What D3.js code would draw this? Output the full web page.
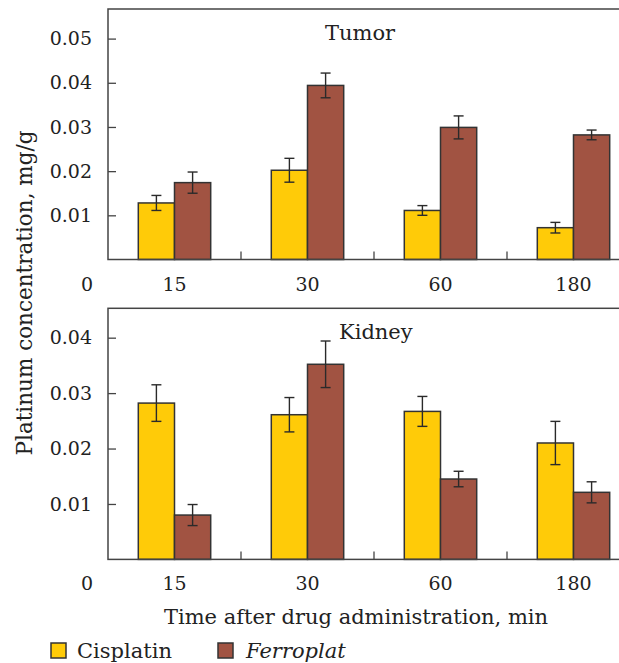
<!DOCTYPE html>
<html>
<head>
<meta charset="utf-8">
<script src="https://cdn.jsdelivr.net/npm/d3@7"></script>
<style>
  body { margin: 0; background: #fff; }
  svg text { font-family: "DejaVu Serif", serif; fill: #222; }
</style>
</head>
<body>
<svg id="chart" width="619" height="663"></svg>
<script>
var categories = ["15", "30", "60", "180"];
var series = ["Cisplatin", "Ferroplat"];
var colors = ["#FFCB08", "#A15342"];

// values (mg/g)
var tumorCisplatin = [0.0128, 0.0202, 0.0111, 0.0072];
var tumorCisplatinErr = [0.0017, 0.0027, 0.0011, 0.0012];
var tumorFerroplat = [0.0174, 0.0394, 0.0299, 0.0282];
var tumorFerroplatErr = [0.0024, 0.0028, 0.0026, 0.0011];

var kidneyCisplatin = [0.0282, 0.0261, 0.0267, 0.0210];
var kidneyCisplatinErr = [0.0033, 0.0031, 0.0027, 0.0039];
var kidneyFerroplat = [0.0080, 0.0352, 0.0145, 0.0121];
var kidneyFerroplatErr = [0.0019, 0.0042, 0.0014, 0.0019];

var tumorTicks = [0.01, 0.02, 0.03, 0.04, 0.05];
var kidneyTicks = [0.01, 0.02, 0.03, 0.04];

var svg = d3.select("#chart");

var left = 108, right = 640; // plot runs past the right edge of the picture
var x0 = d3.scaleBand()
  .domain(categories)
  .range([left, right])
  .paddingInner(0.4556)
  .paddingOuter(0.2278);

var x1 = d3.scaleBand()
  .domain(series)
  .range([0, x0.bandwidth()]);

function panel(opts) {
  var y = d3.scaleLinear().domain([0, opts.max]).range([opts.bottom, opts.top]);
  var g = svg.append("g");

  var rows = categories.map(function(c, i) {
    return series.map(function(s, j) {
      return { cat: c, s: s, j: j, v: opts.values[j][i], e: opts.errors[j][i] };
    });
  });
  var flat = [].concat.apply([], rows);

  // bars
  g.selectAll("rect.bar")
    .data(flat)
    .enter().append("rect")
    .attr("class", "bar")
    .attr("x", function(d) { return x0(d.cat) + x1(d.s); })
    .attr("y", function(d) { return y(d.v); })
    .attr("width", x1.bandwidth())
    .attr("height", function(d) { return y(0) - y(d.v); })
    .attr("fill", function(d) { return colors[d.j]; })
    .attr("stroke", "#333")
    .attr("stroke-width", 1.5);

  // error bars
  var eb = g.selectAll("g.err")
    .data(flat)
    .enter().append("g")
    .attr("class", "err")
    .attr("stroke", "#2a2a2a")
    .attr("stroke-width", 1.4);
  var cx = function(d) { return x0(d.cat) + x1(d.s) + x1.bandwidth() / 2; };
  eb.append("line")
    .attr("x1", cx).attr("x2", cx)
    .attr("y1", function(d) { return y(d.v + d.e); })
    .attr("y2", function(d) { return y(d.v - d.e); });
  [1, -1].forEach(function(sign) {
    eb.append("line")
      .attr("x1", function(d) { return cx(d) - 5; })
      .attr("x2", function(d) { return cx(d) + 5; })
      .attr("y1", function(d) { return y(d.v + sign * d.e); })
      .attr("y2", function(d) { return y(d.v + sign * d.e); });
  });

  // frame (open on the right, cut by the picture edge)
  g.append("rect")
    .attr("x", left).attr("y", opts.top)
    .attr("width", right - left).attr("height", opts.bottom - opts.top)
    .attr("fill", "none")
    .attr("stroke", "#444")
    .attr("stroke-width", 1.5);

  // separators between time groups
  g.selectAll("line.sep")
    .data(categories.slice(1))
    .enter().append("line")
    .attr("class", "sep")
    .attr("x1", function(c) { return x0(c) - x0.step() * x0.paddingInner() / 2; })
    .attr("x2", function(c) { return x0(c) - x0.step() * x0.paddingInner() / 2; })
    .attr("y1", opts.bottom)
    .attr("y2", opts.bottom - 8)
    .attr("stroke", "#444")
    .attr("stroke-width", 1.3);

  // y axis, ticks pointing inward
  var yAxis = d3.axisLeft(y)
    .tickValues(opts.ticks)
    .tickFormat(d3.format(".2f"))
    .tickSizeInner(-8)
    .tickSizeOuter(0)
    .tickPadding(16);
  var ya = g.append("g")
    .attr("transform", "translate(" + left + ",0)")
    .call(yAxis);
  ya.select(".domain").remove();
  ya.selectAll(".tick line").attr("stroke", "#444").attr("stroke-width", 1.3);
  ya.selectAll(".tick text")
    .attr("font-family", "DejaVu Serif")
    .attr("font-size", 19)
    .attr("fill", "#222");

  // category labels + the zero
  g.selectAll("text.cat")
    .data(categories)
    .enter().append("text")
    .attr("class", "cat")
    .attr("x", function(c) { return x0(c) + x0.bandwidth() / 2; })
    .attr("y", opts.bottom + 31)
    .attr("text-anchor", "middle")
    .attr("font-size", 19)
    .text(function(c) { return c; });
  g.append("text")
    .attr("x", left - 15)
    .attr("y", opts.bottom + 31)
    .attr("text-anchor", "end")
    .attr("font-size", 19)
    .text("0");

  g.append("text")
    .attr("x", opts.titleX)
    .attr("y", opts.top + 31)
    .attr("font-size", 21)
    .text(opts.title);
}

panel({
  title: "Tumor", titleX: 325,
  top: 9, bottom: 259.5, max: 0.0567,
  ticks: tumorTicks,
  values: [tumorCisplatin, tumorFerroplat],
  errors: [tumorCisplatinErr, tumorFerroplatErr]
});

panel({
  title: "Kidney", titleX: 339,
  top: 308.3, bottom: 559.4, max: 0.0453,
  ticks: kidneyTicks,
  values: [kidneyCisplatin, kidneyFerroplat],
  errors: [kidneyCisplatinErr, kidneyFerroplatErr]
});

// axis titles
svg.append("text")
  .attr("transform", "translate(32,293) rotate(-90)")
  .attr("text-anchor", "middle")
  .attr("font-size", 21.5)
  .text("Platinum concentration, mg/g");

svg.append("text")
  .attr("x", 356)
  .attr("y", 624)
  .attr("text-anchor", "middle")
  .attr("font-size", 21)
  .text("Time after drug administration, min");

// legend
var legendX = [51, 218];
var lg = svg.selectAll("g.legend")
  .data(series)
  .enter().append("g")
  .attr("class", "legend")
  .attr("transform", function(d, i) { return "translate(" + legendX[i] + ",643)"; });
lg.append("rect")
  .attr("width", 15).attr("height", 15)
  .attr("fill", function(d, i) { return colors[i]; })
  .attr("stroke", "#333")
  .attr("stroke-width", 1.5);
lg.append("text")
  .attr("x", function(d, i) { return i === 0 ? 26 : 28; })
  .attr("y", 15)
  .attr("font-size", 21)
  .attr("font-style", function(d, i) { return i === 1 ? "italic" : "normal"; })
  .text(function(d) { return d; });
</script>
</body>
</html>
